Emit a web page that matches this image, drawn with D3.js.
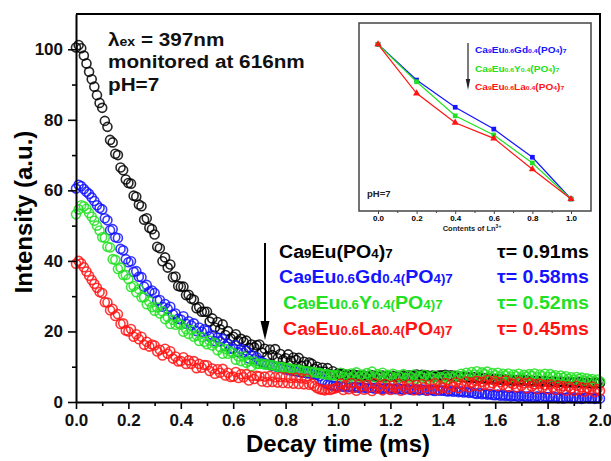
<!DOCTYPE html>
<html>
<head>
<meta charset="utf-8">
<script src="https://cdn.jsdelivr.net/npm/d3@7"></script>
<style>
  body { margin: 0; background: #fff; }
  svg { display: block; font-family: "Liberation Sans", Arial, sans-serif; font-weight: bold; }
</style>
</head>
<body>
<svg id="chart" width="611" height="461"></svg>
<script>
const sampleStep = 0.01;

const euDecay = [
  100.5, 101.2, 100.3, 98.2, 96.0, 93.6, 91.5, 89.4, 87.0, 84.8,
  83.4, 79.7, 78.0, 74.3, 73.6, 70.4, 70.0, 66.5, 65.7, 63.1,
  62.1, 61.9, 58.5, 58.2, 56.0, 55.5, 51.7, 52.1, 49.4, 49.0,
  47.5, 44.0, 43.6, 39.9, 41.0, 38.1, 39.0, 35.4, 35.6, 32.9,
  32.7, 32.7, 30.3, 30.4, 29.3, 29.0, 26.6, 26.9, 25.6, 25.6,
  25.6, 22.8, 23.7, 21.1, 22.7, 20.6, 22.0, 19.0, 20.1, 18.0,
  18.5, 19.2, 17.3, 17.9, 17.0, 17.4, 15.4, 16.3, 15.5, 16.1,
  16.3, 14.0, 15.1, 12.9, 14.9, 13.3, 15.0, 12.4, 13.6, 11.9,
  12.4, 13.5, 11.7, 12.6, 11.9, 12.5, 10.2, 11.4, 10.4, 11.2,
  10.8, 9.4, 10.0, 8.6, 9.7, 8.6, 9.6, 7.9, 8.7, 7.7,
  8.1, 7.9, 8.0, 7.6, 7.7, 7.5, 7.8, 7.4, 7.6, 7.3,
  7.5, 7.2, 7.4, 7.6, 7.1, 7.3, 7.2, 7.5, 7.0, 7.3,
  7.1, 7.4, 7.2, 7.0, 7.3, 7.5, 7.2, 7.6, 7.4, 7.3,
  7.8, 7.5, 7.7, 7.4, 7.6, 7.3, 7.5, 7.2, 7.4, 7.6,
  7.5, 7.7, 7.3, 7.6, 7.4, 7.1, 7.3, 7.0, 7.2, 6.9,
  7.0, 6.8, 7.1, 6.7, 6.9, 6.6, 6.8, 6.5, 6.7, 6.4,
  6.6, 6.3, 6.5, 6.2, 6.4, 6.1, 6.3, 6.0, 6.2, 6.1,
  6.3, 6.0, 6.2, 5.9, 6.1, 5.8, 6.0, 5.9, 5.7, 6.0,
  5.8, 5.6, 5.9, 5.7, 5.5, 5.8, 5.6, 5.4, 5.7, 5.5,
  5.6, 5.4, 5.7, 5.5, 5.3, 5.6, 5.4, 5.2, 5.5, 5.3,
  5.4
];

const gdDecay = [
  60.5, 61.6, 61.2, 60.4, 59.6, 59.0, 58.0, 57.0, 55.8, 55.0,
  54.6, 52.1, 51.5, 48.7, 49.0, 46.7, 46.5, 43.4, 43.0, 40.5,
  39.6, 39.9, 36.9, 37.1, 35.5, 35.4, 32.7, 33.2, 31.3, 31.6,
  30.9, 28.8, 28.9, 27.0, 27.8, 26.4, 27.0, 24.8, 25.1, 23.6,
  23.4, 24.3, 22.2, 22.9, 21.7, 22.3, 20.1, 21.1, 19.9, 20.6,
  20.2, 18.5, 19.0, 17.3, 18.3, 17.2, 17.9, 15.9, 16.5, 15.1,
  15.1, 16.1, 14.1, 15.0, 13.9, 14.6, 12.3, 13.3, 12.1, 12.7,
  11.6, 11.3, 11.0, 10.7, 10.5, 10.3, 10.1, 9.9, 9.7, 9.5,
  9.3, 9.1, 9.0, 8.8, 8.7, 8.6, 8.4, 8.3, 8.2, 8.1,
  8.0, 7.8, 7.7, 7.3, 6.2, 5.4, 5.0, 4.8, 4.6, 4.5,
  4.4, 4.6, 4.3, 4.5, 4.2, 4.4, 4.1, 4.3, 4.0, 4.2,
  4.1, 3.9, 4.2, 4.0, 3.8, 4.1, 3.9, 3.7, 4.0, 3.8,
  3.9, 3.7, 3.6, 3.9, 3.7, 3.5, 3.8, 3.6, 3.4, 3.7,
  3.5, 3.3, 3.6, 3.4, 3.2, 3.5, 3.3, 3.1, 3.4, 3.2,
  3.3, 3.1, 3.0, 3.2, 2.9, 3.1, 2.8, 3.0, 2.7, 2.9,
  2.6, 2.8, 2.5, 2.3, 2.6, 2.2, 2.4, 2.1, 2.3, 2.0,
  1.9, 2.1, 1.8, 2.0, 1.7, 1.9, 1.6, 1.8, 1.7, 1.5,
  1.8, 1.6, 1.4, 1.7, 1.5, 1.3, 1.6, 1.4, 1.2, 1.5,
  1.3, 1.5, 1.2, 1.4, 1.1, 1.3, 1.0, 1.2, 1.4, 1.1,
  1.3, 1.0, 1.2, 0.9, 1.1, 1.3, 1.0, 1.2, 0.9, 1.1,
  1.0
];

const yDecay = [
  53.2, 54.6, 55.8, 55.5, 54.8, 53.6, 52.5, 51.4, 50.0, 48.6,
  46.7, 46.6, 44.0, 43.8, 40.5, 40.3, 37.7, 38.1, 36.0, 36.0,
  34.9, 32.6, 32.9, 31.1, 32.0, 29.7, 29.7, 27.7, 28.5, 26.9,
  25.9, 26.8, 25.1, 25.7, 23.5, 24.1, 22.1, 23.3, 21.9, 22.4,
  21.9, 19.9, 20.7, 19.3, 20.4, 18.5, 18.9, 17.3, 18.4, 17.1,
  16.4, 17.4, 16.0, 16.7, 14.7, 15.5, 13.7, 15.0, 13.7, 14.3,
  13.9, 12.0, 12.9, 11.6, 12.9, 11.1, 11.6, 10.1, 11.5, 10.8,
  10.8, 10.9, 10.6, 10.7, 10.4, 10.5, 10.2, 10.0, 9.8, 9.9,
  9.6, 9.7, 9.4, 9.3, 9.1, 9.2, 8.9, 8.8, 8.6, 8.7,
  8.4, 8.5, 8.2, 8.3, 8.0, 7.8, 7.9, 7.6, 7.7, 7.5,
  7.6, 8.3, 7.0, 7.9, 6.8, 8.1, 7.3, 8.4, 7.1, 7.8,
  7.2, 8.2, 7.5, 8.6, 7.0, 7.9, 7.4, 8.3, 6.9, 7.7,
  7.3, 8.0, 6.8, 7.6, 7.1, 7.9, 6.7, 7.5, 7.0, 7.8,
  6.6, 7.4, 6.9, 7.7, 6.5, 7.2, 6.8, 7.5, 6.4, 7.1,
  6.7, 7.4, 6.5, 7.3, 6.9, 7.6, 7.2, 8.0, 7.4, 8.3,
  7.6, 8.5, 7.8, 8.7, 7.5, 8.4, 7.9, 8.6, 7.3, 8.2,
  7.6, 8.3, 7.2, 8.0, 7.5, 8.1, 7.0, 7.8, 7.3, 8.0,
  6.9, 7.7, 7.2, 7.9, 7.4, 8.1, 7.0, 7.8, 7.3, 8.0,
  7.1, 7.9, 7.2, 7.6, 6.8, 7.5, 6.9, 7.3, 6.5, 7.0,
  6.3, 7.1, 6.6, 6.9, 6.0, 6.7, 6.2, 6.5, 5.8, 6.4,
  5.9
];

const laDecay = [
  39.2, 40.0, 39.3, 38.2, 37.0, 35.8, 34.6, 33.5, 32.4, 31.2,
  30.9, 28.3, 28.2, 26.0, 26.4, 24.4, 24.9, 22.1, 22.3, 20.3,
  20.0, 20.7, 18.5, 19.2, 17.8, 18.5, 16.2, 17.1, 15.7, 16.3,
  16.0, 14.3, 14.8, 13.2, 15.1, 13.7, 14.4, 12.3, 12.9, 11.5,
  11.6, 12.7, 10.8, 11.8, 10.8, 11.6, 9.6, 10.8, 9.7, 10.5,
  10.4, 8.8, 9.5, 8.0, 9.3, 8.3, 9.4, 7.5, 8.3, 7.1,
  7.2, 8.5, 6.8, 7.9, 7.0, 7.9, 6.1, 7.4, 6.5, 7.4,
  7.3, 5.8, 7.2, 5.6, 7.4, 5.7, 7.0, 5.5, 7.1, 5.4,
  7.0, 5.3, 6.8, 5.2, 6.9, 5.1, 6.7, 5.0, 6.6, 4.9,
  5.2, 4.5, 4.0, 3.6, 3.5, 3.3, 3.6, 3.4, 3.7, 3.9,
  4.1, 5.2, 3.4, 4.8, 3.6, 5.4, 4.0, 3.2, 5.0, 4.4,
  3.5, 4.9, 4.2, 3.1, 5.3, 3.8, 4.6, 3.3, 5.1, 4.0,
  3.4, 4.7, 3.9, 5.2, 3.2, 4.5, 3.7, 5.0, 4.1, 3.3,
  4.8, 3.6, 5.1, 4.2, 3.3, 4.9, 3.8, 5.3, 3.5, 4.6,
  4.0, 5.4, 3.7, 4.9, 4.3, 5.6, 3.9, 5.1, 4.5, 5.8,
  4.2, 5.5, 4.7, 6.0, 4.4, 5.7, 4.9, 6.2, 4.6, 5.3,
  6.0, 4.5, 5.6, 4.8, 6.1, 4.3, 5.4, 5.0, 4.2, 5.7,
  4.6, 5.3, 3.9, 5.5, 4.4, 5.0, 3.7, 5.2, 4.1, 4.8,
  3.6, 5.0, 4.2, 3.4, 4.7, 3.9, 4.5, 3.2, 4.4, 3.8,
  3.1, 4.6, 3.5, 4.2, 2.9, 4.0, 3.3, 4.4, 2.8, 3.7,
  3.2
];

const sampleNames = ['Ca{9}Eu(PO{4}){7}', 'Ca{9}Eu{0.6}Gd{0.4(}PO{4)7}',
  'Ca{9}Eu{0.6}Y{0.4(}PO{4)7}', 'Ca{9}Eu{0.6}La{0.4(}PO{4)7}'];
const lifetimes = ['0.91', '0.58', '0.52', '0.45'];
const seriesColors = ['#000000', '#1414ff', '#22e022', '#ff1414'];

const xTicks = [0, 0.2, 0.4, 0.6, 0.8, 1.0, 1.2, 1.4, 1.6, 1.8, 2.0];
const xMinorTicks = [0.1, 0.3, 0.5, 0.7, 0.9, 1.1, 1.3, 1.5, 1.7, 1.9];
const yTicks = [0, 20, 40, 60, 80, 100];
const yMinorTicks = [10, 30, 50, 70, 90];

// inset: relative lifetime vs Ln3+ content
const lnContents = [0.0, 0.2, 0.4, 0.6, 0.8, 1.0];
const insetGd = [1.0, 0.769, 0.593, 0.452, 0.270, 0.0];
const insetY = [1.0, 0.758, 0.538, 0.414, 0.233, 0.0];
const insetLa = [1.0, 0.683, 0.493, 0.392, 0.192, 0.0];
const insetNames = ['Ca{9}Eu{0.6}Gd{0.4}(PO{4}){7}', 'Ca{9}Eu{0.6}Y{0.4}(PO{4}){7}',
  'Ca{9}Eu{0.6}La{0.4}(PO{4}){7}'];

const svg = d3.select('#chart');
const stretch = 1.12;

// text with small "{...}" parts (formula indices)
function formula(parent, str, px, py, size, color, anchor) {
  const t = parent.append('text')
    .attr('transform', 'translate(' + px + ',' + py + ') scale(' + stretch + ',1)')
    .attr('font-size', size)
    .attr('fill', color)
    .attr('text-anchor', anchor || 'start');
  str.split(/(\{[^}]*\})/).filter((s) => s).forEach((part) => {
    const small = part.charAt(0) === '{';
    t.append('tspan')
      .attr('font-size', small ? size * 0.68 : size)
      .text(small ? part.slice(1, -1) : part);
  });
  return t;
}

const x = d3.scaleLinear().domain([0, 2]).range([76, 600]);
const y = d3.scaleLinear().domain([0, 110]).range([402, 14]);
const timeMs = d3.range(euDecay.length).map((i) => i * sampleStep);

// decay scatter
[euDecay, gdDecay, yDecay, laDecay].forEach((values, k) => {
  svg.append('g')
    .selectAll('circle')
    .data(values)
    .join('circle')
    .attr('cx', (d, i) => x(timeMs[i]))
    .attr('cy', (d) => y(d))
    .attr('r', 4.5)
    .attr('fill', 'none')
    .attr('stroke', seriesColors[k])
    .attr('stroke-width', 1.6)
    .attr('stroke-opacity', 0.85);
});

// axes
function styleAxis(g) {
  g.attr('font-size', 17).attr('font-family', null).attr('font-weight', 'bold');
  g.select('.domain').attr('stroke-width', 2);
  g.selectAll('.tick line').attr('stroke-width', 1.6);
  g.selectAll('.tick text').attr('fill', '#111');
}

svg.append('g')
  .attr('transform', 'translate(76,0)')
  .call(d3.axisLeft(y).tickValues(yMinorTicks).tickSize(4).tickFormat(''))
  .call((g) => g.select('.domain').remove())
  .call((g) => g.selectAll('line').attr('stroke-width', 1.6));

svg.append('g')
  .attr('transform', 'translate(76,0)')
  .call(d3.axisLeft(y).tickValues(yTicks).tickSize(8).tickSizeOuter(0).tickPadding(5))
  .call(styleAxis);

svg.append('g')
  .attr('transform', 'translate(0,402)')
  .call(d3.axisBottom(x).tickValues(xMinorTicks).tickSize(4).tickFormat(''))
  .call((g) => g.select('.domain').remove())
  .call((g) => g.selectAll('line').attr('stroke-width', 1.6));

svg.append('g')
  .attr('transform', 'translate(0,402)')
  .call(d3.axisBottom(x).tickValues(xTicks).tickSize(7).tickSizeOuter(0)
    .tickPadding(5).tickFormat(d3.format('.1f')))
  .call(styleAxis);

// frame top and right
svg.append('path')
  .attr('d', 'M' + x(0) + ',' + y(110) + 'H' + x(2) + 'V' + y(0))
  .attr('fill', 'none')
  .attr('stroke', '#000')
  .attr('stroke-width', 2);

svg.append('text')
  .attr('transform', 'translate(32,212) rotate(-90)')
  .attr('text-anchor', 'middle')
  .attr('font-size', 24)
  .text('Intensity (a.u.)');

svg.append('text')
  .attr('x', 338)
  .attr('y', 452)
  .attr('text-anchor', 'middle')
  .attr('font-size', 24)
  .text('Decay time (ms)');

// excitation annotation
formula(svg, 'λ{ex} = 397nm', 108, 46, 18.5, '#111');
formula(svg, 'monitored at 616nm', 108, 68, 18.5, '#111');
formula(svg, 'pH=7', 108, 91, 18.5, '#111');

// legend
const legendRows = [258, 283, 309, 335];
const legendLeft = [279, 279, 283, 283];
sampleNames.forEach((name, i) => {
  formula(svg, name, legendLeft[i], legendRows[i], 17.5, seriesColors[i]);
  formula(svg, 'τ= ' + lifetimes[i] + 'ms', 589, legendRows[i], 17.5, seriesColors[i], 'end');
});

svg.append('line')
  .attr('x1', 265).attr('y1', 243)
  .attr('x2', 265).attr('y2', 325)
  .attr('stroke', '#000')
  .attr('stroke-width', 2);
svg.append('path')
  .attr('d', 'M260.5,321L269.5,321L265,340Z')
  .attr('fill', '#000');

// inset
const inset = svg.append('g');
const ix = d3.scaleLinear().domain([0, 1]).range([378, 571]);
const iy = d3.scaleLinear().domain([0, 1]).range([199, 44.3]);

inset.append('rect')
  .attr('x', 359).attr('y', 23)
  .attr('width', 232).attr('height', 188)
  .attr('fill', '#fff')
  .attr('stroke', '#444')
  .attr('stroke-width', 1.5);

inset.append('g')
  .attr('transform', 'translate(0,211)')
  .call(d3.axisBottom(ix).tickValues([0.1, 0.3, 0.5, 0.7, 0.9]).tickSize(2).tickFormat(''))
  .call((g) => g.select('.domain').remove())
  .call((g) => g.selectAll('line').attr('stroke', '#444'));

inset.append('g')
  .attr('transform', 'translate(0,211)')
  .call(d3.axisBottom(ix).tickValues(lnContents).tickSize(3).tickSizeOuter(0)
    .tickPadding(1).tickFormat(d3.format('.1f')))
  .call((g) => g.select('.domain').remove())
  .call((g) => g.selectAll('line').attr('stroke', '#444'))
  .attr('font-size', 8)
  .attr('font-family', null)
  .attr('font-weight', 'bold');

const insetLabel = inset.append('text')
  .attr('x', 472)
  .attr('y', 231)
  .attr('text-anchor', 'middle')
  .attr('font-size', 7.5)
  .attr('fill', '#222');
insetLabel.append('tspan').text('Contents of Ln');
insetLabel.append('tspan').attr('font-size', 5).attr('dy', -3).text('3+');

const insetLine = d3.line()
  .x((d, i) => ix(lnContents[i]))
  .y((d) => iy(d));

[insetGd, insetY, insetLa].forEach((values, k) => {
  const color = seriesColors[k + 1];
  inset.append('path')
    .datum(values)
    .attr('d', insetLine)
    .attr('fill', 'none')
    .attr('stroke', color)
    .attr('stroke-width', 1.2);
  const marker = k === 2 ? d3.symbolTriangle : d3.symbolSquare;
  inset.append('g')
    .selectAll('path')
    .data(values)
    .join('path')
    .attr('transform', (d, i) => 'translate(' + ix(lnContents[i]) + ',' + iy(d) + ')')
    .attr('d', d3.symbol(marker, 22))
    .attr('fill', color);
});

const insetRows = [53, 72, 90];
insetNames.forEach((name, i) => {
  formula(inset, name, 475, insetRows[i], 9, seriesColors[i + 1]);
});

inset.append('line')
  .attr('x1', 468).attr('y1', 43)
  .attr('x2', 468).attr('y2', 82)
  .attr('stroke', '#222')
  .attr('stroke-width', 1.2);
inset.append('path')
  .attr('d', 'M465.8,79L470.2,79L468,90Z')
  .attr('fill', '#222');

formula(inset, 'pH=7', 367, 197, 8.5, '#222');
</script>
</body>
</html>
